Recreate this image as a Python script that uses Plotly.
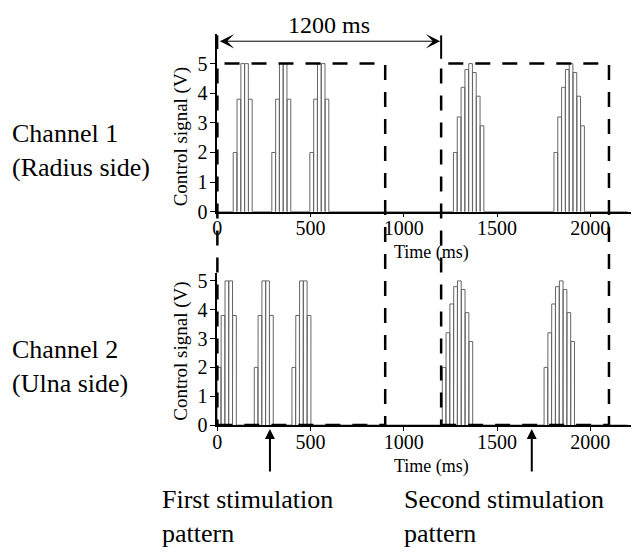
import plotly.graph_objects as go

# ---------------- data ----------------
period_ms = 20.5          # pulse period inside a burst
pulse_on_ms = 19.6        # pulse on-time
signal_end_ms = 2200

pattern1_amps = [2.0, 3.8, 5.0, 5.0, 3.8]
pattern2_amps = [2.0, 3.2, 4.2, 4.8, 5.0, 4.7, 3.9, 2.9]

ch1_p1_starts = [85, 292, 496]
ch1_p2_starts = [1266, 1805]
ch2_p1_starts = [0, 198, 400]
ch2_p2_starts = [1206, 1752]

window_starts = [0, 1200]
window_ends = [900, 2100]
window_level = 5

x_ticks = [0, 500, 1000, 1500, 2000]
y_ticks = [0, 1, 2, 3, 4, 5]
period_span = [0, 1200]
period_label = "1200 ms"
stim_arrow_ms = [282, 1686]
stim_labels = ["First stimulation<br>pattern", "Second stimulation<br>pattern"]
channel_labels = ["Channel 1<br>(Radius side)", "Channel 2<br>(Ulna side)"]
y_title = "Control signal (V)"
x_title = "Time (ms)"

# ---------------- layout geometry ----------------
# the page body adds an 8px margin; the figure is sized/positioned to compensate
OFF = 8
W, H = 639 - OFF, 554 - OFF
FONT = "Liberation Serif, Times New Roman, serif"


def px_x(p):   # reference page pixel -> paper x
    return (p - OFF) / W


def px_y(p):   # reference page pixel -> paper y
    return 1 - (p - OFF) / H


X_RANGE = [0, 2261]
X_DOM = [px_x(214), 1.0]
Y1_RANGE = [0, 6]
Y1_DOM = [px_y(214), px_y(31.6)]
Y2_RANGE = [0, 5.27]
Y2_DOM = [px_y(433), px_y(277)]


def xp(ms):
    return X_DOM[0] + (ms - X_RANGE[0]) / (X_RANGE[1] - X_RANGE[0]) * (X_DOM[1] - X_DOM[0])


def yp(v, rng, dom):
    return dom[0] + (v - rng[0]) / (rng[1] - rng[0]) * (dom[1] - dom[0])


def build_signal(groups):
    xs, ys = [0], [0]
    for starts, amps in groups:
        for s in starts:
            for i, a in enumerate(amps):
                t0 = s + i * period_ms
                xs += [t0, t0, t0 + pulse_on_ms, t0 + pulse_on_ms]
                ys += [0, a, a, 0]
    xs.append(signal_end_ms)
    ys.append(0)
    return xs, ys


x1, y1 = build_signal([(ch1_p1_starts, pattern1_amps), (ch1_p2_starts, pattern2_amps)])
x2, y2 = build_signal([(ch2_p1_starts, pattern1_amps), (ch2_p2_starts, pattern2_amps)])

fig = go.Figure()
line_style = dict(color="#666666", width=1)
fig.add_trace(go.Scatter(x=x1, y=y1, mode="lines", line=line_style, xaxis="x", yaxis="y",
                         showlegend=False, hoverinfo="skip"))
fig.add_trace(go.Scatter(x=x2, y=y2, mode="lines", line=line_style, xaxis="x2", yaxis="y2",
                         showlegend=False, hoverinfo="skip"))

tickfont = dict(family=FONT, size=20, color="black")
xa = dict(range=X_RANGE, domain=X_DOM, tickvals=x_ticks, ticks="outside", ticklen=4,
          tickwidth=1, tickcolor="black", showline=True, linecolor="black", linewidth=1.5,
          showgrid=False, zeroline=False, tickfont=tickfont, fixedrange=True,
          ticklabelstandoff=-6)
ya = dict(tickvals=y_ticks, ticks="outside", ticklen=6, tickwidth=1, tickcolor="black",
          showline=True, linecolor="black", linewidth=1.5, showgrid=False, zeroline=False,
          tickfont=tickfont, fixedrange=True, ticklabelstandoff=-2)

shapes = []
dash_line = dict(color="black", width=2.5, dash="15px,12px")
top5 = yp(window_level, Y1_RANGE, Y1_DOM)
bot0 = yp(0, Y2_RANGE, Y2_DOM)
for s, e in zip(window_starts, window_ends):
    shapes.append(dict(type="rect", xref="paper", yref="paper", x0=xp(s), x1=xp(e),
                       y0=bot0, y1=top5, line=dash_line, fillcolor="rgba(0,0,0,0)"))
# end bars of the period dimension
shapes.append(dict(type="line", xref="paper", yref="paper", x0=xp(period_span[0]), x1=xp(period_span[0]),
                   y0=px_y(33), y1=px_y(47), line=dict(color="black", width=2)))
shapes.append(dict(type="line", xref="paper", yref="paper", x0=xp(period_span[1]), x1=xp(period_span[1]),
                   y0=px_y(33), y1=px_y(57), line=dict(color="black", width=2)))

annotations = []
# period arrow
annotations.append(dict(xref="x", yref="paper", x=period_span[1], y=px_y(39), axref="x", ayref="pixel",
                        ax=period_span[0], ay=0, text="", showarrow=True, arrowhead=3, arrowside="end+start",
                        arrowsize=2.4, arrowwidth=1, arrowcolor="black", standoff=1, startstandoff=1))
annotations.append(dict(xref="x", yref="paper", x=sum(period_span) / 2, y=px_y(22), text=period_label,
                        xanchor="center", yanchor="middle", showarrow=False,
                        font=dict(family=FONT, size=24, color="black")))
# channel labels
for lab, ypx in zip(channel_labels, [151, 373]):
    annotations.append(dict(xref="paper", yref="paper", x=px_x(5), y=px_y(ypx), text=lab,
                            xanchor="left", yanchor="middle", align="left", showarrow=False,
                            font=dict(family=FONT, size=26, color="black")))
# axis titles
for ypx in [137, 357]:
    annotations.append(dict(xref="paper", yref="paper", x=px_x(177), y=px_y(ypx), text=y_title,
                            xanchor="center", yanchor="middle", textangle=-90, showarrow=False,
                            font=dict(family=FONT, size=19, color="black")))
for ypx in [256, 475]:
    annotations.append(dict(xref="paper", yref="paper", x=px_x(430), y=px_y(ypx), text=x_title,
                            xanchor="center", yanchor="middle", showarrow=False,
                            font=dict(family=FONT, size=18, color="black")))
# stimulation arrows + labels
for ms, lab, lx in zip(stim_arrow_ms, stim_labels, [156, 400]):
    annotations.append(dict(xref="x2", yref="y2", x=ms, y=0, ax=0, ay=48, text="", showarrow=True,
                            arrowhead=2, arrowsize=1, arrowwidth=2, arrowcolor="black", standoff=4))
    annotations.append(dict(xref="paper", yref="paper", x=px_x(lx), y=px_y(527), text=lab,
                            xanchor="left", yanchor="middle", align="left", showarrow=False,
                            font=dict(family=FONT, size=26, color="black")))

fig.update_layout(
    width=W, height=H, margin=dict(l=0, r=0, t=0, b=0),
    paper_bgcolor="white", plot_bgcolor="white",
    xaxis=dict(xa, anchor="y"),
    yaxis=dict(ya, range=Y1_RANGE, domain=Y1_DOM, anchor="x"),
    xaxis2=dict(xa, anchor="y2"),
    yaxis2=dict(ya, range=Y2_RANGE, domain=Y2_DOM, anchor="x2"),
    shapes=shapes, annotations=annotations, showlegend=False,
)

fig.write_html("out.html")
